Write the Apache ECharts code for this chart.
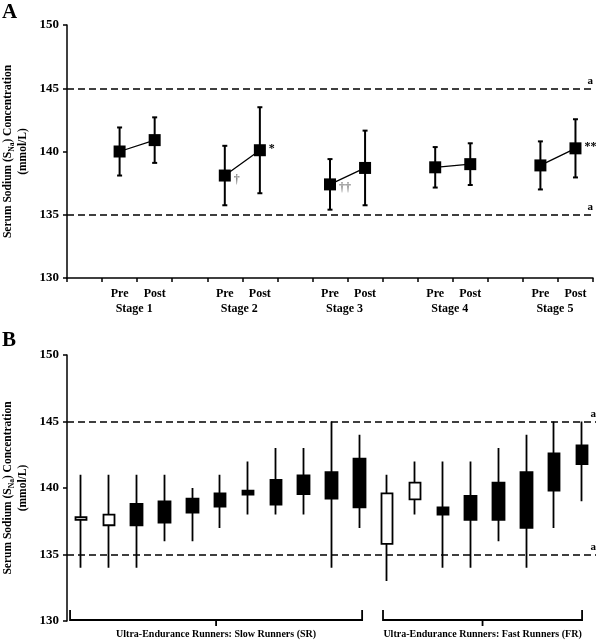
<!DOCTYPE html>
<html>
<head>
<meta charset="utf-8">
<script src="https://cdn.jsdelivr.net/npm/echarts@6/dist/echarts.min.js"></script>
<style>html,body{margin:0;padding:0;background:#fff}#c{width:600px;height:641px}</style>
</head>
<body>
<div id="c"></div>
<script>
// ---------- Panel A data ----------
const stages = ['Stage 1', 'Stage 2', 'Stage 3', 'Stage 4', 'Stage 5'];
const preMean = [140.0, 138.1, 137.4, 138.75, 138.9];
const preSD = [1.9, 2.35, 2.0, 1.6, 1.9];
const postMean = [140.9, 140.1, 138.7, 139.0, 140.25];
const postSD = [1.8, 3.4, 2.95, 1.65, 2.3];
const preNote = ['', '†', '††', '', ''];
const postNote = ['', '*', '', '', '**'];
const yTicksA = [130, 135, 140, 145, 150];
const refLines = [145, 135];

// ---------- Panel B data ----------
const boxLow  = [137.6, 137.2, 137.2, 137.4, 138.15, 138.6, 139.5, 138.75, 139.55, 139.2, 138.55, 135.8, 139.15, 138.0, 137.6, 137.6, 137.0, 139.8, 141.8];
const boxHigh = [137.8, 138.0, 138.8, 139.0, 139.2, 139.6, 139.8, 140.6, 140.95, 141.2, 142.2, 139.6, 140.4, 138.55, 139.4, 140.4, 141.2, 142.6, 143.2];
const wickLow = [134, 134, 134, 136, 136, 137, 138, 138, 138, 134, 137, 133, 138, 134, 134, 136, 134, 137, 139];
const wickHigh = [141, 141, 141, 141, 140, 141, 142, 143, 143, 145, 144, 141, 142, 142, 142, 143, 144, 145, 145];
const hollow = [1, 1, 0, 0, 0, 0, 0, 0, 0, 0, 0, 1, 1, 0, 0, 0, 0, 0, 0];
const groupNames = ['Ultra-Endurance Runners: Slow Runners (SR)', 'Ultra-Endurance Runners: Fast Runners (FR)'];
const groupStart = [-0.39, 10.85];
const groupEnd = [10.1, 18.0];

const FONT = "'Liberation Serif', 'Times New Roman', serif";

// Build panel A category axis (gap, Pre, Post per stage)
const catA = [];
const meanA = [];
const errA = [];
stages.forEach((s, i) => {
  catA.push('', 'Pre', 'Post');
  const pi = catA.length - 2, qi = catA.length - 1;
  meanA.push('-',
    {value: preMean[i], label: preNote[i] ? {show: true, formatter: preNote[i], color: '#888', offset: [0, 4]} : {show: false}},
    {value: postMean[i], label: postNote[i] ? {show: true, formatter: postNote[i], color: '#000', offset: [0, -1]} : {show: false}});
  errA.push([pi, preMean[i] - preSD[i], preMean[i] + preSD[i]]);
  errA.push([qi, postMean[i] - postSD[i], postMean[i] + postSD[i]]);
});
const stageItems = stages.map((s, i) => [3 * i + 1, 3 * i + 2]);

const catB = boxLow.map((v, i) => 'R' + (i + 1));
const candleData = boxLow.map((v, i) => {
  const item = {value: [boxLow[i], boxHigh[i], wickLow[i], wickHigh[i]]};
  if (hollow[i]) item.itemStyle = {color: '#fff', borderColor: '#000'};
  return item;
});

const yName = 'Serum Sodium (S{sub|Na}) Concentration\n(mmol/L)';
function yAxisCfg(gridIndex) {
  return {
    type: 'value', gridIndex, min: 130, max: 150, interval: 5,
    splitLine: {show: false},
    axisLine: {show: true, lineStyle: {color: '#000', width: 1.5}},
    axisTick: {show: true, inside: false, length: 4, lineStyle: {color: '#000', width: 1.5}},
    axisLabel: {color: '#000', fontFamily: FONT, fontWeight: 'bold', fontSize: 13, margin: 8},
    name: yName, nameLocation: 'middle', nameRotate: 90, nameGap: 36, nameMoveOverlap: false,
    nameTextStyle: {color: '#000', fontFamily: FONT, fontWeight: 'bold', fontSize: 11.5, lineHeight: 15, align: 'center',
      rich: {sub: {fontFamily: FONT, fontWeight: 'bold', fontSize: 7.5, lineHeight: 15, verticalAlign: 'bottom', padding: [6, 0, 0, 0]}}}
  };
}
function refMarkLine() {
  return {
    silent: true, symbol: 'none',
    lineStyle: {color: '#000', type: [7, 4], width: 1.5},
    label: {show: true, position: 'insideEndTop', formatter: 'a', color: '#000', fontFamily: FONT, fontWeight: 'bold', fontSize: 11, distance: [0, 2]},
    data: refLines.map(v => ({yAxis: v}))
  };
}

const chart = echarts.init(document.getElementById('c'), null, {renderer: 'canvas'});
chart.setOption({
  backgroundColor: '#fff',
  animation: false,
  graphic: [
    {type: 'text', left: 2, top: 2, style: {text: 'A', font: "bold 21px 'Liberation Serif', serif", fill: '#000'}},
    {type: 'text', left: 2, top: 330, style: {text: 'B', font: "bold 21px 'Liberation Serif', serif", fill: '#000'}}
  ],
  grid: [
    {left: 67, right: 7, top: 25, height: 253, containLabel: false, outerBoundsMode: 'none'},
    {left: 67, right: 4, top: 355, height: 266, containLabel: false, outerBoundsMode: 'none'}
  ],
  xAxis: [
    {type: 'category', gridIndex: 0, data: catA, boundaryGap: true,
      axisLine: {lineStyle: {color: '#000', width: 1.5}},
      axisTick: {show: true, length: 4, interval: 0, lineStyle: {color: '#000', width: 1.5}},
      axisLabel: {interval: 0, color: '#000', fontFamily: FONT, fontWeight: 'bold', fontSize: 12, margin: 10}},
    {type: 'category', gridIndex: 1, data: catB, boundaryGap: true,
      axisLine: {show: false}, axisTick: {show: false}, axisLabel: {show: false}}
  ],
  yAxis: [yAxisCfg(0), yAxisCfg(1)],
  series: [
    {
      type: 'custom', xAxisIndex: 0, yAxisIndex: 0, z: 2,
      data: errA,
      renderItem: function (params, api) {
        const x = api.value(0);
        const lo = api.coord([x, api.value(1)]);
        const hi = api.coord([x, api.value(2)]);
        const c = 2.5;
        const st = {stroke: '#000', lineWidth: 2};
        return {type: 'group', children: [
          {type: 'line', shape: {x1: lo[0], y1: lo[1], x2: hi[0], y2: hi[1]}, style: st},
          {type: 'line', shape: {x1: lo[0] - c, y1: lo[1], x2: lo[0] + c, y2: lo[1]}, style: st},
          {type: 'line', shape: {x1: hi[0] - c, y1: hi[1], x2: hi[0] + c, y2: hi[1]}, style: st}
        ]};
      }
    },
    {
      type: 'line', xAxisIndex: 0, yAxisIndex: 0, z: 3,
      data: meanA, connectNulls: false,
      symbol: 'rect', symbolSize: 12,
      itemStyle: {color: '#000'},
      lineStyle: {color: '#000', width: 1.3},
      label: {position: 'right', distance: 3, fontFamily: FONT, fontWeight: 'bold', fontSize: 12},
      markLine: refMarkLine()
    },
    {
      type: 'custom', xAxisIndex: 0, yAxisIndex: 0, silent: true,
      data: stageItems,
      renderItem: function (params, api) {
        const a = api.coord([stageItems[params.dataIndex][0], 130]);
        const b = api.coord([stageItems[params.dataIndex][1], 130]);
        return {type: 'text', x: (a[0] + b[0]) / 2 - 3, y: a[1] + 31,
          style: {text: stages[params.dataIndex], fill: '#000', font: "bold 12px 'Liberation Serif', serif", align: 'center', verticalAlign: 'middle'}};
      }
    },
    {
      type: 'candlestick', xAxisIndex: 1, yAxisIndex: 1,
      data: candleData, barWidth: 12,
      itemStyle: {color: '#000', color0: '#000', borderColor: '#000', borderColor0: '#000', borderWidth: 1.8},
      markLine: refMarkLine()
    },
    {
      type: 'custom', xAxisIndex: 1, yAxisIndex: 1, silent: true, clip: false,
      data: groupNames.map((n, i) => [i]),
      renderItem: function (params, api) {
        const i = params.dataIndex;
        const p0 = api.coord([0, 130]);
        const p1 = api.coord([1, 130]);
        const bw = p1[0] - p0[0];
        const xs = p0[0] + groupStart[i] * bw;
        const xe = p0[0] + groupEnd[i] * bw;
        const xm = (xs + xe) / 2;
        const y = p0[1] - 1;
        const st = {stroke: '#000', lineWidth: 1.8, fill: null};
        return {type: 'group', children: [
          {type: 'polyline', shape: {points: [[xs, y - 10], [xs, y], [xe, y], [xe, y - 10]]}, style: st},
          {type: 'line', shape: {x1: xm, y1: y, x2: xm, y2: y + 6}, style: st},
          {type: 'text', x: xm, y: y + 14, style: {text: groupNames[i], fill: '#000', font: "bold 10px 'Liberation Serif', serif", align: 'center', verticalAlign: 'middle'}}
        ]};
      }
    }
  ]
});
</script>
</body>
</html>
